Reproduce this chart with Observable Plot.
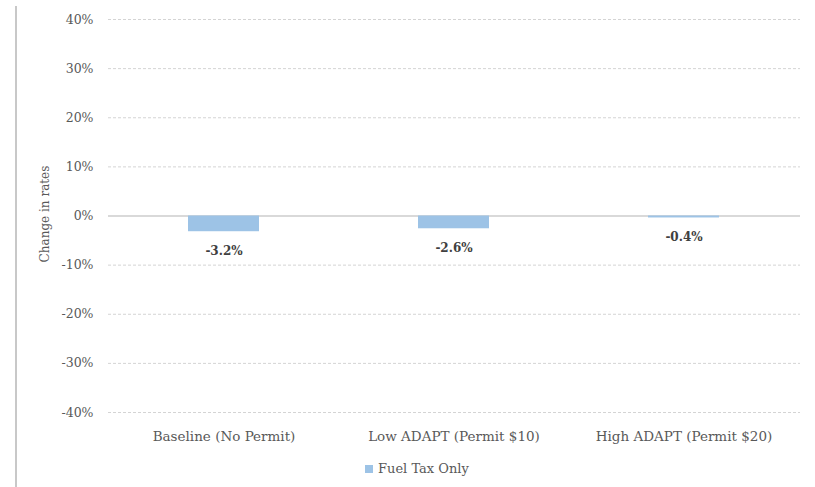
<!DOCTYPE html>
<html>
<head>
<meta charset="utf-8">
<script src="https://cdn.jsdelivr.net/npm/d3@7"></script>
<script src="https://cdn.jsdelivr.net/npm/@observablehq/plot@0.6"></script>
<style>
  body { margin: 0; background: #fff; }
  #wrap { position: relative; width: 815px; height: 487px; overflow: hidden; font-family: "DejaVu Serif", serif; }
  #border { position: absolute; left: 15px; top: 6px; width: 2px; height: 481px; background: #c8c8c8; }
  #chart { position: absolute; left: 0; top: 0; }
  #legend { position: absolute; left: 365px; top: 461px; font-size: 13px; color: #595959; display: flex; align-items: center; }
  #legend .sw { width: 8px; height: 8px; background: #9dc3e6; margin-right: 5px; }
  #ytitle { position: absolute; left: 45px; top: 214px; transform: translate(-50%, -50%) rotate(-90deg); white-space: nowrap; font-size: 12px; color: #595959; }
  #chart svg text { font-family: "DejaVu Serif", serif !important; }
</style>
</head>
<body>
<div id="wrap">
  <div id="border"></div>
  <div id="chart"></div>
  <div id="ytitle"></div>
  <div id="legend"><span class="sw"></span><span id="legendText"></span></div>
</div>
<script>
const categories = ["Baseline (No Permit)", "Low ADAPT (Permit $10)", "High ADAPT (Permit $20)"];
const fuelTaxOnly = [-3.2, -2.6, -0.4];
const seriesName = "Fuel Tax Only";
const yTicks = [-40, -30, -20, -10, 0, 10, 20, 30, 40];
const yTitle = "Change in rates";

const data = categories.map((c, i) => ({category: c, value: fuelTaxOnly[i]}));
document.getElementById("legendText").textContent = seriesName;
document.getElementById("ytitle").textContent = yTitle;

const FONT = "DejaVu Serif, serif";
const chart = Plot.plot({
  width: 815,
  height: 452,
  marginLeft: 108,
  marginRight: 15,
  marginTop: 19,
  marginBottom: 40,
  style: { fontFamily: FONT, fontSize: "12px", color: "#595959", background: "transparent" },
  x: { domain: categories, paddingInner: 0.69, paddingOuter: 0.345, label: null },
  y: { domain: [-40, 40], label: null },
  marks: [
    Plot.ruleY(yTicks.filter(d => d !== 0), { stroke: "#d4d4d4", strokeDasharray: "3,2", strokeWidth: 1 }),
    Plot.ruleY([0], { stroke: "#d9d9d9", strokeWidth: 2 }),
    Plot.barY(data, { x: "category", y: "value", fill: "#9dc3e6" }),
    Plot.text(data, { x: "category", y: "value", text: d => d.value.toFixed(1) + "%", dy: 19, fontWeight: "bold", fill: "#404040", fontSize: 12, fontFamily: FONT }),
    Plot.axisX({ tickSize: 0, tickPadding: 19, fontSize: 13.5, fill: "#595959", label: null, fontFamily: FONT }),
    Plot.axisY({ ticks: yTicks, tickSize: 0, tickPadding: 15, tickFormat: d => d + "%", fontSize: 12.5, fill: "#595959", label: null, fontFamily: FONT })
  ]
});
document.getElementById("chart").appendChild(chart);
</script>
</body>
</html>
